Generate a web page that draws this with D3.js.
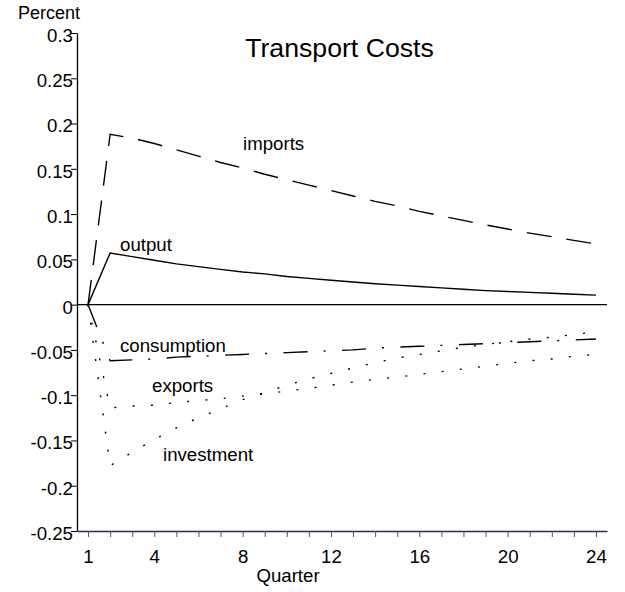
<!DOCTYPE html>
<html>
<head>
<meta charset="utf-8">
<script src="https://cdn.jsdelivr.net/npm/d3@7"></script>
<style>
  html, body { margin: 0; padding: 0; background: #fff; }
  svg { display: block; font-family: "Liberation Sans", Arial, Helvetica, sans-serif; }
</style>
</head>
<body>
<svg id="chart" width="625" height="592"></svg>
<script>
// Impulse responses to a transport-cost shock, percent deviation by quarter
const quarters = [1,2,3,4,5,6,7,8,9,10,11,12,13,14,15,16,17,18,19,20,21,22,23,24];

const imports = [0, 0.188, 0.184, 0.178, 0.171, 0.164, 0.157, 0.151, 0.144, 0.138, 0.132, 0.126,
                 0.120, 0.114, 0.109, 0.103, 0.098, 0.093, 0.088, 0.0835, 0.079, 0.075, 0.071, 0.067];
const output = [0, 0.057, 0.053, 0.049, 0.045, 0.042, 0.039, 0.036, 0.034, 0.031, 0.029, 0.027,
                0.025, 0.023, 0.0215, 0.020, 0.0185, 0.017, 0.0155, 0.0145, 0.0135, 0.0125, 0.0115, 0.0105];
const consumption = [0, -0.062, -0.061, -0.060, -0.058, -0.057, -0.056, -0.055, -0.054, -0.053, -0.052, -0.051,
                     -0.050, -0.048, -0.047, -0.046, -0.045, -0.044, -0.043, -0.042, -0.041, -0.040, -0.039, -0.038];
const exportsSeries = [0, -0.114, -0.112, -0.111, -0.108, -0.106, -0.104, -0.101, -0.0985, -0.0955, -0.0925, -0.089,
                       -0.0855, -0.0825, -0.080, -0.077, -0.074, -0.071, -0.068, -0.065, -0.062, -0.060, -0.057, -0.055];
const investment = [0, -0.178, -0.163, -0.149, -0.136, -0.125, -0.115, -0.105, -0.097, -0.089, -0.082, -0.076,
                    -0.070, -0.064, -0.059, -0.055, -0.051, -0.047, -0.044, -0.041, -0.038, -0.036, -0.033, -0.030];

const yTicks = [-0.25, -0.2, -0.15, -0.1, -0.05, 0, 0.05, 0.1, 0.15, 0.2, 0.25, 0.3];
const yTickLabels = ["-0.25", "-0.2", "-0.15", "-0.1", "-0.05", "0", "0.05", "0.1", "0.15", "0.2", "0.25", "0.3"];
const xLabelled = [1, 4, 8, 12, 16, 20, 24];

const svg = d3.select("#chart");
const FONT = "18.67px";

const x = d3.scaleLinear().domain([0.5, 24.5]).range([77, 607]);
const y = d3.scaleLinear().domain([-0.25, 0.3]).range([531, 33]);

// Title and axis captions
svg.append("text").attr("x", 339.5).attr("y", 57).attr("text-anchor", "middle")
  .style("font-size", "26.67px").text("Transport Costs");
svg.append("text").attr("x", 18).attr("y", 19).style("font-size", "18px").text("Percent");
svg.append("text").attr("x", 288).attr("y", 582).attr("text-anchor", "middle")
  .style("font-size", FONT).text("Quarter");

// Y axis
const yAxis = svg.append("g").attr("transform", `translate(${x(0.5)},0)`)
  .call(d3.axisLeft(y).tickValues(yTicks).tickFormat((d, i) => yTickLabels[i]).tickSize(6).tickSizeOuter(0));
yAxis.select(".domain").attr("stroke", "#000").attr("stroke-width", 1.3);
yAxis.selectAll(".tick line").attr("stroke", "#000");
yAxis.selectAll(".tick text").attr("x", -4).attr("dy", "0.45em")
  .style("font-size", FONT).style("font-family", "Liberation Sans, Arial, sans-serif").attr("fill", "#000");

// X axis
const xAxis = svg.append("g").attr("transform", `translate(0,${y(-0.25)})`)
  .call(d3.axisBottom(x).tickValues(quarters)
    .tickFormat(d => xLabelled.includes(d) ? String(d) : "").tickSize(6).tickSizeOuter(0));
xAxis.select(".domain").attr("stroke", "#2b2b55").attr("stroke-width", 1.6);
xAxis.selectAll(".tick line").attr("stroke", "#555");
xAxis.selectAll(".tick text").attr("y", 32).attr("dy", 0)
  .style("font-size", FONT).style("font-family", "Liberation Sans, Arial, sans-serif").attr("fill", "#000");

// Zero reference line
svg.append("line").attr("x1", x(0.5)).attr("x2", x(24.5)).attr("y1", y(0)).attr("y2", y(0))
  .attr("stroke", "#000").attr("stroke-width", 1.2);

// Response paths
const line = d3.line().x((d, i) => x(quarters[i])).y(d => y(d));
const series = [
  { values: imports, dash: "25,15" },
  { values: output, dash: null },
  { values: consumption, dash: "24,16,2,16.5" },
  { values: exportsSeries, dash: "2,16.3" },
  { values: investment, dash: "2,16.3" }
];
svg.append("g").selectAll("path").data(series).join("path")
  .attr("d", d => line(d.values))
  .attr("fill", "none").attr("stroke", "#000").attr("stroke-width", 1.4)
  .attr("stroke-dasharray", d => d.dash);

// Series labels
const labels = [
  { text: "imports", px: 243, py: 150 },
  { text: "output", px: 120, py: 251 },
  { text: "consumption", px: 120, py: 352 },
  { text: "exports", px: 152, py: 392 },
  { text: "investment", px: 163, py: 461 }
];
svg.append("g").selectAll("text").data(labels).join("text")
  .attr("x", d => d.px).attr("y", d => d.py).style("font-size", FONT).text(d => d.text);
</script>
</body>
</html>
